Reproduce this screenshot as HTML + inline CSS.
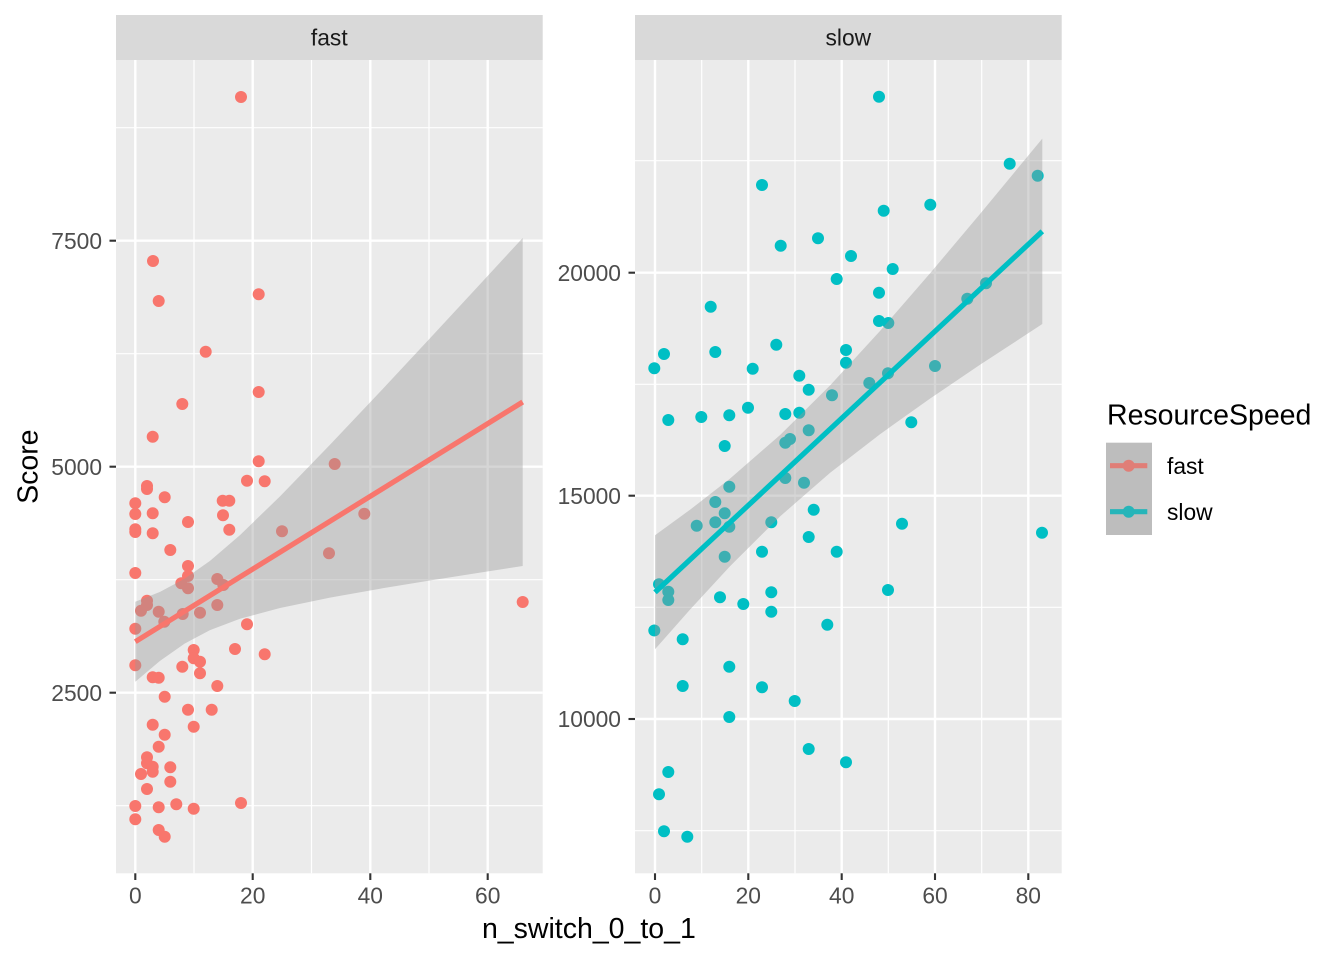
<!DOCTYPE html>
<html><head><meta charset="utf-8"><style>
html,body{margin:0;padding:0;background:#fff;}
svg{display:block;font-family:"Liberation Sans",Arial,sans-serif;}
</style></head><body>
<svg width="1344" height="960" viewBox="0 0 1344 960" xmlns="http://www.w3.org/2000/svg">
<rect width="1344" height="960" fill="#fff"/>
<!-- LEFT PANEL -->
<rect x="116" y="15" width="426.7" height="45" fill="#D9D9D9"/>
<text x="329.3" y="45.5" font-size="22.8" fill="#1A1A1A" text-anchor="middle">fast</text>
<rect x="116" y="60" width="426.7" height="813.3" fill="#EBEBEB"/>
<g stroke="#fff" stroke-width="1.2">
<line x1="116" x2="542.7" y1="127.7" y2="127.7"/><line x1="116" x2="542.7" y1="353.7" y2="353.7"/><line x1="116" x2="542.7" y1="579.7" y2="579.7"/><line x1="116" x2="542.7" y1="805.7" y2="805.7"/>
<line y1="60" y2="873.3" x1="194" x2="194"/><line y1="60" y2="873.3" x1="311.5" x2="311.5"/><line y1="60" y2="873.3" x1="429" x2="429"/>
</g>
<g stroke="#fff" stroke-width="2.4">
<line x1="116" x2="542.7" y1="240.7" y2="240.7"/><line x1="116" x2="542.7" y1="466.7" y2="466.7"/><line x1="116" x2="542.7" y1="692.7" y2="692.7"/>
<line y1="60" y2="873.3" x1="135.3" x2="135.3"/><line y1="60" y2="873.3" x1="252.7" x2="252.7"/><line y1="60" y2="873.3" x1="370.3" x2="370.3"/><line y1="60" y2="873.3" x1="487.7" x2="487.7"/>
</g>
<g fill="#F8766D">
<circle cx="241" cy="97" r="6"/><circle cx="153" cy="261" r="6"/><circle cx="158.7" cy="301" r="6"/><circle cx="258.7" cy="294.3" r="6"/><circle cx="205.7" cy="351.7" r="6"/><circle cx="258.7" cy="392" r="6"/><circle cx="182.3" cy="404" r="6"/><circle cx="152.7" cy="436.7" r="6"/><circle cx="258.7" cy="461.3" r="6"/><circle cx="334.7" cy="464" r="6"/><circle cx="147" cy="486" r="6"/><circle cx="147" cy="489" r="6"/><circle cx="247" cy="480.7" r="6"/><circle cx="264.7" cy="481.3" r="6"/><circle cx="164.7" cy="497.3" r="6"/><circle cx="135.3" cy="503.3" r="6"/><circle cx="222.7" cy="500.7" r="6"/><circle cx="229.3" cy="500.7" r="6"/><circle cx="135.3" cy="514" r="6"/><circle cx="152.7" cy="513.3" r="6"/><circle cx="223" cy="515.3" r="6"/><circle cx="364.3" cy="513.7" r="6"/><circle cx="188" cy="522" r="6"/><circle cx="135.3" cy="529.3" r="6"/><circle cx="135.3" cy="532" r="6"/><circle cx="152.7" cy="533.3" r="6"/><circle cx="229.3" cy="529.7" r="6"/><circle cx="282" cy="531.3" r="6"/><circle cx="170.3" cy="550" r="6"/><circle cx="329" cy="553.3" r="6"/><circle cx="188" cy="566" r="6"/><circle cx="135.3" cy="573" r="6"/><circle cx="188" cy="576" r="6"/><circle cx="181.3" cy="583.3" r="6"/><circle cx="188" cy="588.3" r="6"/><circle cx="217.3" cy="579" r="6"/><circle cx="223.3" cy="585" r="6"/><circle cx="147" cy="600.7" r="6"/><circle cx="147" cy="605" r="6"/><circle cx="141" cy="610.7" r="6"/><circle cx="158.7" cy="611.7" r="6"/><circle cx="164.3" cy="621.7" r="6"/><circle cx="182.7" cy="614" r="6"/><circle cx="200" cy="612.7" r="6"/><circle cx="217.3" cy="605" r="6"/><circle cx="135.3" cy="628.7" r="6"/><circle cx="247" cy="624.3" r="6"/><circle cx="193.7" cy="650" r="6"/><circle cx="235" cy="649" r="6"/><circle cx="264.7" cy="654.3" r="6"/><circle cx="193.7" cy="658.3" r="6"/><circle cx="200" cy="661.7" r="6"/><circle cx="182.3" cy="666.7" r="6"/><circle cx="135.3" cy="665.3" r="6"/><circle cx="200" cy="673.3" r="6"/><circle cx="152.7" cy="677.3" r="6"/><circle cx="158.7" cy="677.7" r="6"/><circle cx="217.3" cy="686" r="6"/><circle cx="164.7" cy="696.7" r="6"/><circle cx="188" cy="709.7" r="6"/><circle cx="211.7" cy="709.7" r="6"/><circle cx="152.7" cy="724.7" r="6"/><circle cx="193.7" cy="726.7" r="6"/><circle cx="164.7" cy="734.7" r="6"/><circle cx="158.7" cy="746.7" r="6"/><circle cx="147" cy="757.3" r="6"/><circle cx="147" cy="763.3" r="6"/><circle cx="152.7" cy="766.7" r="6"/><circle cx="152.7" cy="771.7" r="6"/><circle cx="141" cy="774" r="6"/><circle cx="170.3" cy="767.3" r="6"/><circle cx="170.3" cy="781.7" r="6"/><circle cx="147" cy="789" r="6"/><circle cx="135.3" cy="806" r="6"/><circle cx="158.7" cy="807.3" r="6"/><circle cx="176.3" cy="804.3" r="6"/><circle cx="193.7" cy="808.7" r="6"/><circle cx="241" cy="803" r="6"/><circle cx="135.3" cy="819.3" r="6"/><circle cx="158.7" cy="830" r="6"/><circle cx="164.7" cy="836.7" r="6"/><circle cx="522.7" cy="602" r="6"/>
</g>
<path d="M135.3,601.7 L160,591.9 L184.6,578.8 L210,560.9 L240,535.1 L280,496.4 L330,444.8 L380,391.9 L430,338.3 L480,284.2 L522.7,238 L522.7,566 L480,572.6 L430,580.5 L380,588.7 L330,597.6 L280,608 L240,618.7 L210,630.1 L184.6,643.6 L160,660.9 L135.3,681.7 Z" fill="#999999" fill-opacity="0.4"/>
<line x1="135.3" y1="641.7" x2="522.7" y2="402" stroke="#F8766D" stroke-width="5.2"/>
<!-- left axis -->
<g stroke="#333" stroke-width="2.1">
<line x1="109.5" x2="116" y1="240.7" y2="240.7"/><line x1="109.5" x2="116" y1="466.7" y2="466.7"/><line x1="109.5" x2="116" y1="692.7" y2="692.7"/>
<line y1="873.3" y2="880" x1="135.3" x2="135.3"/><line y1="873.3" y2="880" x1="252.7" x2="252.7"/><line y1="873.3" y2="880" x1="370.3" x2="370.3"/><line y1="873.3" y2="880" x1="487.7" x2="487.7"/>
</g>
<g font-size="22.8" fill="#4D4D4D" text-anchor="end">
<text x="102" y="248.9">7500</text><text x="102" y="474.9">5000</text><text x="102" y="700.9">2500</text>
</g>
<g font-size="22.8" fill="#4D4D4D" text-anchor="middle">
<text x="135.3" y="903.3">0</text><text x="252.7" y="903.3">20</text><text x="370.3" y="903.3">40</text><text x="487.7" y="903.3">60</text>
</g>

<!-- RIGHT PANEL -->
<rect x="635" y="15" width="426.7" height="45" fill="#D9D9D9"/>
<text x="848.3" y="45.5" font-size="22.8" fill="#1A1A1A" text-anchor="middle">slow</text>
<rect x="635" y="60" width="426.7" height="813.3" fill="#EBEBEB"/>
<g stroke="#fff" stroke-width="1.2">
<line x1="635" x2="1061.7" y1="160.7" y2="160.7"/><line x1="635" x2="1061.7" y1="384.3" y2="384.3"/><line x1="635" x2="1061.7" y1="607.3" y2="607.3"/><line x1="635" x2="1061.7" y1="830.7" y2="830.7"/>
<line y1="60" y2="873.3" x1="701.7" x2="701.7"/><line y1="60" y2="873.3" x1="795" x2="795"/><line y1="60" y2="873.3" x1="888.3" x2="888.3"/><line y1="60" y2="873.3" x1="981.7" x2="981.7"/>
</g>
<g stroke="#fff" stroke-width="2.4">
<line x1="635" x2="1061.7" y1="272.7" y2="272.7"/><line x1="635" x2="1061.7" y1="495.7" y2="495.7"/><line x1="635" x2="1061.7" y1="719" y2="719"/>
<line y1="60" y2="873.3" x1="655" x2="655"/><line y1="60" y2="873.3" x1="748.3" x2="748.3"/><line y1="60" y2="873.3" x1="841.7" x2="841.7"/><line y1="60" y2="873.3" x1="935" x2="935"/><line y1="60" y2="873.3" x1="1028.3" x2="1028.3"/>
</g>
<g fill="#00BFC4">
<circle cx="879" cy="96.7" r="6"/><circle cx="762" cy="185" r="6"/><circle cx="1009.7" cy="163.7" r="6"/><circle cx="1037.7" cy="175.7" r="6"/><circle cx="930.3" cy="204.7" r="6"/><circle cx="883.7" cy="210.7" r="6"/><circle cx="780.7" cy="245.7" r="6"/><circle cx="818" cy="238.3" r="6"/><circle cx="851" cy="256" r="6"/><circle cx="892.7" cy="269" r="6"/><circle cx="836.7" cy="279" r="6"/><circle cx="710.7" cy="306.7" r="6"/><circle cx="879" cy="292.7" r="6"/><circle cx="879" cy="321" r="6"/><circle cx="888.3" cy="323" r="6"/><circle cx="967.3" cy="298.7" r="6"/><circle cx="986" cy="283.3" r="6"/><circle cx="664" cy="354" r="6"/><circle cx="715.3" cy="352" r="6"/><circle cx="776.3" cy="344.7" r="6"/><circle cx="846" cy="350" r="6"/><circle cx="654.3" cy="368.3" r="6"/><circle cx="752.7" cy="368.7" r="6"/><circle cx="846" cy="362.7" r="6"/><circle cx="799.3" cy="375.7" r="6"/><circle cx="808.7" cy="389.7" r="6"/><circle cx="832" cy="395.3" r="6"/><circle cx="869.3" cy="383" r="6"/><circle cx="888" cy="373.3" r="6"/><circle cx="935" cy="366" r="6"/><circle cx="668.3" cy="420" r="6"/><circle cx="701.3" cy="417" r="6"/><circle cx="729.3" cy="415.3" r="6"/><circle cx="748" cy="407.7" r="6"/><circle cx="785.3" cy="414" r="6"/><circle cx="799.3" cy="412.7" r="6"/><circle cx="808.7" cy="430.3" r="6"/><circle cx="911.3" cy="422.3" r="6"/><circle cx="724.7" cy="446" r="6"/><circle cx="785.3" cy="442.7" r="6"/><circle cx="790" cy="439" r="6"/><circle cx="785.3" cy="478" r="6"/><circle cx="804" cy="482.7" r="6"/><circle cx="729.3" cy="486.7" r="6"/><circle cx="715.3" cy="502" r="6"/><circle cx="724.7" cy="513.3" r="6"/><circle cx="813.7" cy="509.7" r="6"/><circle cx="696.7" cy="525.7" r="6"/><circle cx="715.3" cy="522.3" r="6"/><circle cx="729.3" cy="526.7" r="6"/><circle cx="771.3" cy="522.3" r="6"/><circle cx="902" cy="523.7" r="6"/><circle cx="1042" cy="532.7" r="6"/><circle cx="808.7" cy="537" r="6"/><circle cx="762" cy="551.7" r="6"/><circle cx="836.7" cy="551.7" r="6"/><circle cx="724.7" cy="556.7" r="6"/><circle cx="659" cy="584.3" r="6"/><circle cx="668.3" cy="591.7" r="6"/><circle cx="668.3" cy="600" r="6"/><circle cx="720" cy="597.3" r="6"/><circle cx="743.3" cy="604" r="6"/><circle cx="771.3" cy="592.3" r="6"/><circle cx="888" cy="590" r="6"/><circle cx="771.3" cy="611.7" r="6"/><circle cx="827.3" cy="624.7" r="6"/><circle cx="654.3" cy="630.5" r="6"/><circle cx="682.7" cy="639.3" r="6"/><circle cx="729.3" cy="666.7" r="6"/><circle cx="682.7" cy="686" r="6"/><circle cx="762" cy="687.3" r="6"/><circle cx="794.7" cy="701" r="6"/><circle cx="729.3" cy="717" r="6"/><circle cx="808.7" cy="749" r="6"/><circle cx="846" cy="762.3" r="6"/><circle cx="668.3" cy="772" r="6"/><circle cx="659" cy="794.3" r="6"/><circle cx="664" cy="831.3" r="6"/><circle cx="687.3" cy="836.7" r="6"/>
</g>
<path d="M655,535.3 L690,509.8 L730,478.6 L780.4,434.7 L830,385.5 L880,331 L930,273.4 L980,214 L1042.3,138.6 L1042.3,324 L980,364.8 L930,398.6 L880,434.2 L830,472.9 L780.4,516.1 L730,566.2 L690,609.6 L655,649.3 Z" fill="#999999" fill-opacity="0.4"/>
<line x1="655" y1="592.3" x2="1042.3" y2="231.3" stroke="#00BFC4" stroke-width="5.2"/>
<g stroke="#333" stroke-width="2.1">
<line x1="628.5" x2="635" y1="272.7" y2="272.7"/><line x1="628.5" x2="635" y1="495.7" y2="495.7"/><line x1="628.5" x2="635" y1="719" y2="719"/>
<line y1="873.3" y2="880" x1="655" x2="655"/><line y1="873.3" y2="880" x1="748.3" x2="748.3"/><line y1="873.3" y2="880" x1="841.7" x2="841.7"/><line y1="873.3" y2="880" x1="935" x2="935"/><line y1="873.3" y2="880" x1="1028.3" x2="1028.3"/>
</g>
<g font-size="22.8" fill="#4D4D4D" text-anchor="end">
<text x="621" y="280.9">20000</text><text x="621" y="503.9">15000</text><text x="621" y="727.2">10000</text>
</g>
<g font-size="22.8" fill="#4D4D4D" text-anchor="middle">
<text x="655" y="903.3">0</text><text x="748.3" y="903.3">20</text><text x="841.7" y="903.3">40</text><text x="935" y="903.3">60</text><text x="1028.3" y="903.3">80</text>
</g>

<!-- axis titles -->
<text x="588.9" y="938" font-size="28.5" fill="#000" text-anchor="middle">n_switch_0_to_1</text>
<text transform="translate(37.3,466.7) rotate(-90)" font-size="28.5" fill="#000" text-anchor="middle">Score</text>

<!-- legend -->
<text x="1107" y="424.3" font-size="28.5" fill="#000">ResourceSpeed</text>
<rect x="1106" y="442.7" width="46" height="92.3" fill="#CACACA"/>
<line x1="1110" x2="1147.3" y1="465.7" y2="465.7" stroke="#F8766D" stroke-width="5.2"/>
<circle cx="1128.7" cy="465.7" r="6" fill="#F8766D"/>
<line x1="1110" x2="1147.3" y1="511.7" y2="511.7" stroke="#00BFC4" stroke-width="5.2"/>
<circle cx="1128.7" cy="511.7" r="6" fill="#00BFC4"/>
<rect x="1106" y="442.7" width="46" height="92.3" fill="#999999" fill-opacity="0.25"/>
<text x="1167" y="474" font-size="22.8" fill="#000">fast</text>
<text x="1167" y="520" font-size="22.8" fill="#000">slow</text>
</svg>
</body></html>
